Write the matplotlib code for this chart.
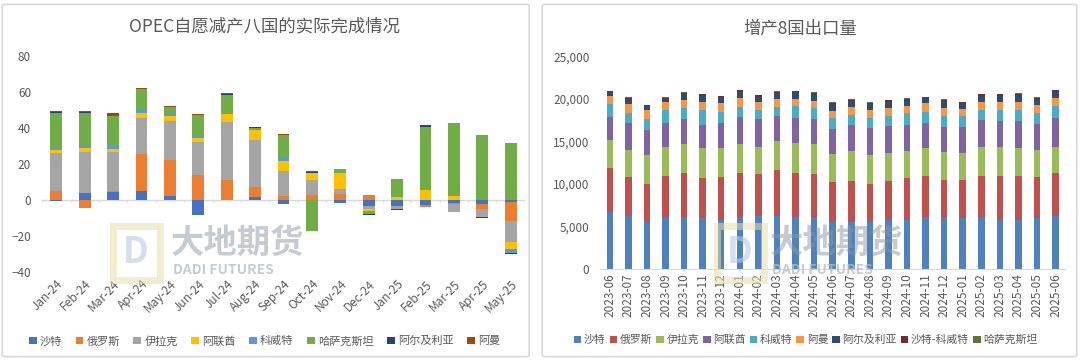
import numpy as np
import matplotlib
matplotlib.use('Agg')
import matplotlib.pyplot as plt
from matplotlib.patches import FancyBboxPatch, Rectangle
from matplotlib.ticker import FuncFormatter

plt.rcParams['font.family'] = ['Noto Sans CJK SC', 'DejaVu Sans']

# ---- left chart data: 实际完成情况 ----
months_l = ['Jan-24', 'Feb-24', 'Mar-24', 'Apr-24', 'May-24', 'Jun-24', 'Jul-24', 'Aug-24',
            'Sep-24', 'Oct-24', 'Nov-24', 'Dec-24', 'Jan-25', 'Feb-25', 'Mar-25', 'Apr-25', 'May-25']
saudi_l = [-0.5, 3.7, 4.6, 5.0, 2.0, -8.3, 0, 1.7, -2.4, 0, -1.9, -3.3, -3.5, -3.0, -1.5, -2.5, -1.1]
russia_l = [4.8, -4.3, 0.3, 20.4, 20.0, 13.7, 11.3, 5.3, 2.2, 2.6, 3.1, 3.0, 0, -0.7, -0.5, -2.3, -10.6]
iraq_l = [21.5, 23.0, 21.7, 20.3, 21.7, 18.5, 32.2, 26.1, 13.9, 8.3, 2.8, -1.5, -1.5, 0, -4.6, -4.6, -11.4]
uae_l = [1.5, 2.2, 1.5, 2.4, 2.8, 2.4, 4.1, 5.6, 5.6, 4.3, 9.3, -1.5, 1.7, 5.6, 2.2, 0, -4.3]
kuwait_l = [1.3, 1.5, 1.8, 1.9, 1.8, 1.0, 0.5, 0, 1.8, 0, 0, 0, 0, 0, 0, 0, -1.9]
kazakh_l = [19.0, 18.0, 16.7, 11.5, 3.1, 11.4, 10.2, 1.3, 12.4, -17.4, 2.2, -1.3, 10.2, 35.0, 40.7, 35.9, 31.9]
algeria_l = [0.5, 0.5, 0.3, 0.3, 0.3, 0.3, 0.5, 0.5, 0.3, 0.5, 0, -0.5, -0.5, 0.8, 0, -0.8, -0.9]
oman_l = [1.0, 0.8, 1.5, 0.5, 0.6, 0.5, 0.4, 0.3, 0.3, 0.4, 0, 0, 0, 0, 0, 0, 0]

names_l = ['沙特', '俄罗斯', '伊拉克', '阿联酋', '科威特', '哈萨克斯坦', '阿尔及利亚', '阿曼']
colors_l = ['#4472C4', '#ED7D31', '#A5A5A5', '#FFC000', '#5B9BD5', '#70AD47', '#264478', '#9E480E']

# ---- right chart data: 增产8国出口量 ----
months_r = ['2023-06', '2023-07', '2023-08', '2023-09', '2023-10', '2023-11', '2023-12',
            '2024-01', '2024-02', '2024-03', '2024-04', '2024-05', '2024-06', '2024-07',
            '2024-08', '2024-09', '2024-10', '2024-11', '2024-12', '2025-01', '2025-02',
            '2025-03', '2025-04', '2025-05', '2025-06']
saudi_r = [6730, 6200, 5550, 5950, 6150, 6150, 5750, 6100, 6200, 6200, 6100, 6100, 5550,
           5550, 5450, 5700, 5750, 6100, 6100, 5950, 6100, 5750, 5800, 5950, 6200]
russia_r = [5120, 4600, 4450, 4950, 5100, 4550, 5050, 5200, 5000, 5400, 5200, 5100, 4650,
            4800, 4550, 4600, 4950, 4800, 4400, 4550, 4800, 5150, 5100, 4850, 5100]
iraq_r = [3350, 3200, 3400, 3400, 3450, 3500, 3400, 3400, 3200, 3400, 3500, 3500, 3300,
          3550, 3400, 3300, 3200, 3300, 3300, 3200, 3500, 3400, 3300, 3200, 3100]
uae_r = [2700, 3200, 3000, 2900, 2900, 2800, 3000, 3200, 3200, 3000, 3000, 3000, 3000,
         3100, 3200, 3200, 3100, 3000, 2900, 3000, 3100, 3100, 3200, 3100, 3400]
kuwait_r = [1500, 1200, 1200, 1500, 1300, 1700, 1300, 1200, 1100, 1100, 1400, 1200, 1300,
            1100, 1200, 1200, 1300, 1300, 1300, 1300, 1200, 1300, 1300, 1300, 1400]
oman_r = [1000, 1000, 1100, 900, 1000, 1000, 1000, 1000, 900, 900, 800, 900, 800,
          1000, 900, 1000, 900, 1000, 1000, 800, 1000, 1000, 1000, 900, 900]
algeria_r = [450, 600, 450, 450, 700, 700, 700, 800, 700, 700, 800, 800, 800,
             700, 700, 700, 700, 600, 800, 700, 700, 700, 800, 700, 800]
sk_r = [100, 150, 100, 100, 150, 150, 150, 150, 150, 150, 150, 150, 150,
        150, 150, 150, 150, 150, 150, 150, 150, 150, 150, 150, 150]
kazakh_r = [50] * 25

names_r = ['沙特', '俄罗斯', '伊拉克', '阿联酋', '科威特', '阿曼', '阿尔及利亚', '沙特-科威特', '哈萨克斯坦']
colors_r = ['#4F81BD', '#C0504D', '#9BBB59', '#8064A2', '#4BACC6', '#F79646', '#2C4D75', '#772C2A', '#5F7530']

TXT = '#595959'

fig = plt.figure(figsize=(10.8, 3.61), dpi=100)

# panel frames
for x0, w in [(0.002, 0.488), (0.502, 0.495)]:
    fig.patches.append(FancyBboxPatch((x0, 0.012), w, 0.976, boxstyle='round,pad=0,rounding_size=0.004',
                                      transform=fig.transFigure, facecolor='white',
                                      edgecolor='#D9D9D9', linewidth=1.2, zorder=-5))


def watermark(x_logo, x_txt, y):
    fig.patches.append(Rectangle((x_logo, y - 0.1), 0.043, 0.15, transform=fig.transFigure,
                                 facecolor='none', edgecolor='#E8DFA8', linewidth=5, alpha=0.55, zorder=5))
    fig.text(x_logo + 0.021, y - 0.025, 'D', transform=fig.transFigure, fontsize=26, color='#B7CBE0',
             alpha=0.6, ha='center', va='center', fontweight='bold', zorder=5)
    fig.text(x_txt, y, '大地期货', fontsize=24, color='#8C98A6', alpha=0.5,
             ha='left', va='center', fontweight='bold', zorder=5)
    fig.text(x_txt + 0.002, y - 0.072, 'DADI FUTURES', fontsize=10, color='#B0BCC8', alpha=0.75,
             ha='left', va='center', fontweight='bold', zorder=5)


# ---- left chart ----
axl = fig.add_axes([0.039, 0.2465, 0.447, 0.5985])
data_l = np.array([saudi_l, russia_l, iraq_l, uae_l, kuwait_l, kazakh_l, algeria_l, oman_l])
x = np.arange(len(months_l))
pos_b = np.zeros(len(months_l))
neg_b = np.zeros(len(months_l))
for vals, name, c in zip(data_l, names_l, colors_l):
    bottom = np.where(vals >= 0, pos_b, neg_b)
    axl.bar(x, vals, 0.42, bottom=bottom, color=c, label=name, zorder=2)
    pos_b += np.clip(vals, 0, None)
    neg_b += np.clip(vals, None, 0)
axl.axhline(0, color='#D9D9D9', lw=1, zorder=1)
axl.vlines(np.arange(len(months_l) + 1) - 0.5, -1.3, 0, color='#D9D9D9', lw=1, zorder=1)
axl.set_xlim(-0.5, len(months_l) - 0.5)
axl.set_ylim(-40, 80)
axl.set_yticks(range(-40, 81, 20))
axl.set_xticks(x)
axl.set_xticklabels(months_l, rotation=45, ha='right', rotation_mode='anchor')
axl.tick_params(axis='both', length=0, labelsize=8.5, colors=TXT)
axl.tick_params(axis='x', pad=4)
axl.tick_params(axis='y', pad=8)
for s in axl.spines.values():
    s.set_visible(False)
axl.set_facecolor('none')
fig.text(0.245, 0.927, 'OPEC自愿减产八国的实际完成情况', ha='center', va='center', fontsize=12.5, color=TXT)
axl.legend(loc='center', bbox_to_anchor=(0.245, 0.055), bbox_transform=fig.transFigure, ncol=8,
           frameon=False, fontsize=8, handlelength=0.7, handleheight=0.7, handletextpad=0.3,
           columnspacing=1.2, labelcolor=TXT)
watermark(0.105, 0.158, 0.325)

# ---- right chart ----
axr = fig.add_axes([0.556, 0.2557, 0.430, 0.5873])
data_r = np.array([saudi_r, russia_r, iraq_r, uae_r, kuwait_r, oman_r, algeria_r, sk_r, kazakh_r])
xr = np.arange(len(months_r))
bot = np.zeros(len(months_r))
for vals, name, c in zip(data_r, names_r, colors_r):
    axr.bar(xr, vals, 0.35, bottom=bot, color=c, label=name, zorder=2)
    bot += vals
axr.set_xlim(-0.5, len(months_r) - 0.5)
axr.set_ylim(0, 25000)
axr.set_yticks(range(0, 25001, 5000))
axr.yaxis.set_major_formatter(FuncFormatter(lambda v, p: f'{int(v):,}'))
axr.set_xticks(xr)
axr.set_xticklabels(months_r, rotation=90)
axr.tick_params(axis='both', length=0, labelsize=8.5, colors=TXT)
axr.tick_params(axis='y', pad=8)
for s in ['top', 'right', 'left']:
    axr.spines[s].set_visible(False)
axr.spines['bottom'].set_color('#D9D9D9')
axr.set_facecolor('none')
fig.text(0.741, 0.922, '增产8国出口量', ha='center', va='center', fontsize=12.5, color=TXT)
axr.legend(loc='center', bbox_to_anchor=(0.746, 0.058), bbox_transform=fig.transFigure, ncol=9,
           frameon=False, fontsize=7.8, handlelength=0.7, handleheight=0.7, handletextpad=0.25,
           columnspacing=0.35, labelcolor=TXT)
watermark(0.664, 0.713, 0.325)

fig.savefig('out.png', dpi=100)
